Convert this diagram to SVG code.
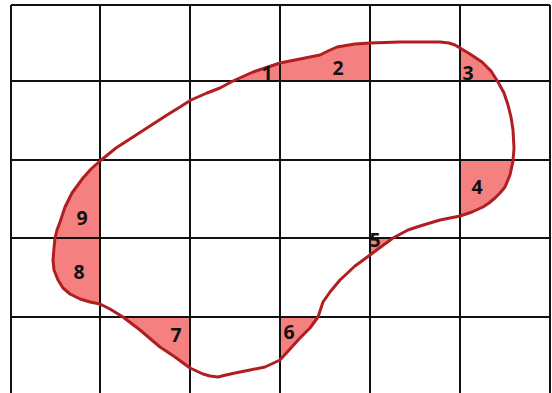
<svg xmlns="http://www.w3.org/2000/svg" width="552" height="393" viewBox="0 0 552 393">
<style>
.grid line{stroke:#111;stroke-width:2}
.fill{fill:#f4807f;stroke:none}
.curve{fill:none;stroke:#b01e22;stroke-width:3;stroke-linejoin:round;stroke-linecap:round}
.lbl{font-family:"Open Sans","Liberation Sans",Arial,sans-serif;font-weight:bold;font-size:19.5px;fill:#111;text-anchor:middle}
</style>
<rect width="552" height="393" fill="#fff"/>
<g id="fills">
<polygon class="fill" points="233,81 253,72 280,63 300,59 320,55 337,47 355,44 370,43 370,81"/>
<polygon class="fill" points="460,48 470,54 482,62 491,71 498,81 460,81"/>
<polygon class="fill" points="460,161 513,161 510,175 505,187 500,193 495,198 489,203 483,207 472,212 460,216"/>
<polygon class="fill" points="370,238 393,238 370,255"/>
<polygon class="fill" points="280,317 318,317 310,328 300,338 290,349 280,360"/>
<polygon class="fill" points="123,317 190,317 190,368 175,357 160,347 140,330"/>
<polygon class="fill" points="100,238 100,304 90,302 80,299 70,294 63,288 58,280 54,270 53,260 54,248 55,238"/>
<polygon class="fill" points="100,161 100,238 55,238 57,230 60,222 65,207 72,193 83,178 91,169"/>
</g>
<g id="grid" class="grid">
<line x1="11" y1="5" x2="11" y2="393"/>
<line x1="100" y1="5" x2="100" y2="393"/>
<line x1="190" y1="5" x2="190" y2="393"/>
<line x1="280" y1="5" x2="280" y2="393"/>
<line x1="370" y1="5" x2="370" y2="393"/>
<line x1="460" y1="5" x2="460" y2="393"/>
<line x1="550" y1="5" x2="550" y2="393"/>
<line x1="11" y1="5" x2="550" y2="5"/>
<line x1="11" y1="81" x2="550" y2="81"/>
<line x1="11" y1="160" x2="550" y2="160"/>
<line x1="11" y1="238" x2="550" y2="238"/>
<line x1="11" y1="317" x2="550" y2="317"/>
</g>
<g id="connectors">
<path class="curve" d="M100,161 L116,148 L133,137 L150,126 L167,115 L180,107 L191,100 L207,93 L220,88 L233,81 L253,72 L265,68 L280,63 L300,59 L320,55 L328,51 L337,47 L355,44 L370,43 L400,42 L440,42 L449,43 L455,45 L460,48 L470,54 L482,62 L491,71 L498,82 L504,93 L508,105 L511,117 L513,130 L514,148 L513,161 L510,175 L505,187 L500,193 L495,198 L489,203 L483,207 L472,212 L460,216 L440,220 L420,226 L408,230 L393,238 L370,255 L355,266 L340,280 L330,292 L323,302 L318,317 L310,328 L300,338 L290,349 L280,360 L265,367 L250,370 L235,373 L226,375 L218,377 L210,376 L203,374 L190,368 L175,357 L160,347 L140,330 L123,317 L110,309 L100,304 L90,302 L80,299 L70,294 L63,288 L58,280 L54,270 L53,260 L54,248 L55,238 L57,230 L60,222 L65,207 L72,193 L83,178 L91,169 Z"/>
</g>
<g id="labels">
<text class="lbl" x="267" y="80">1</text>
<text class="lbl" x="338" y="75">2</text>
<text class="lbl" x="468" y="80">3</text>
<text class="lbl" x="477" y="194">4</text>
<text class="lbl" x="375" y="247">5</text>
<text class="lbl" x="289" y="339">6</text>
<text class="lbl" x="176" y="342">7</text>
<text class="lbl" x="79" y="279">8</text>
<text class="lbl" x="82" y="225">9</text>
</g>
</svg>
